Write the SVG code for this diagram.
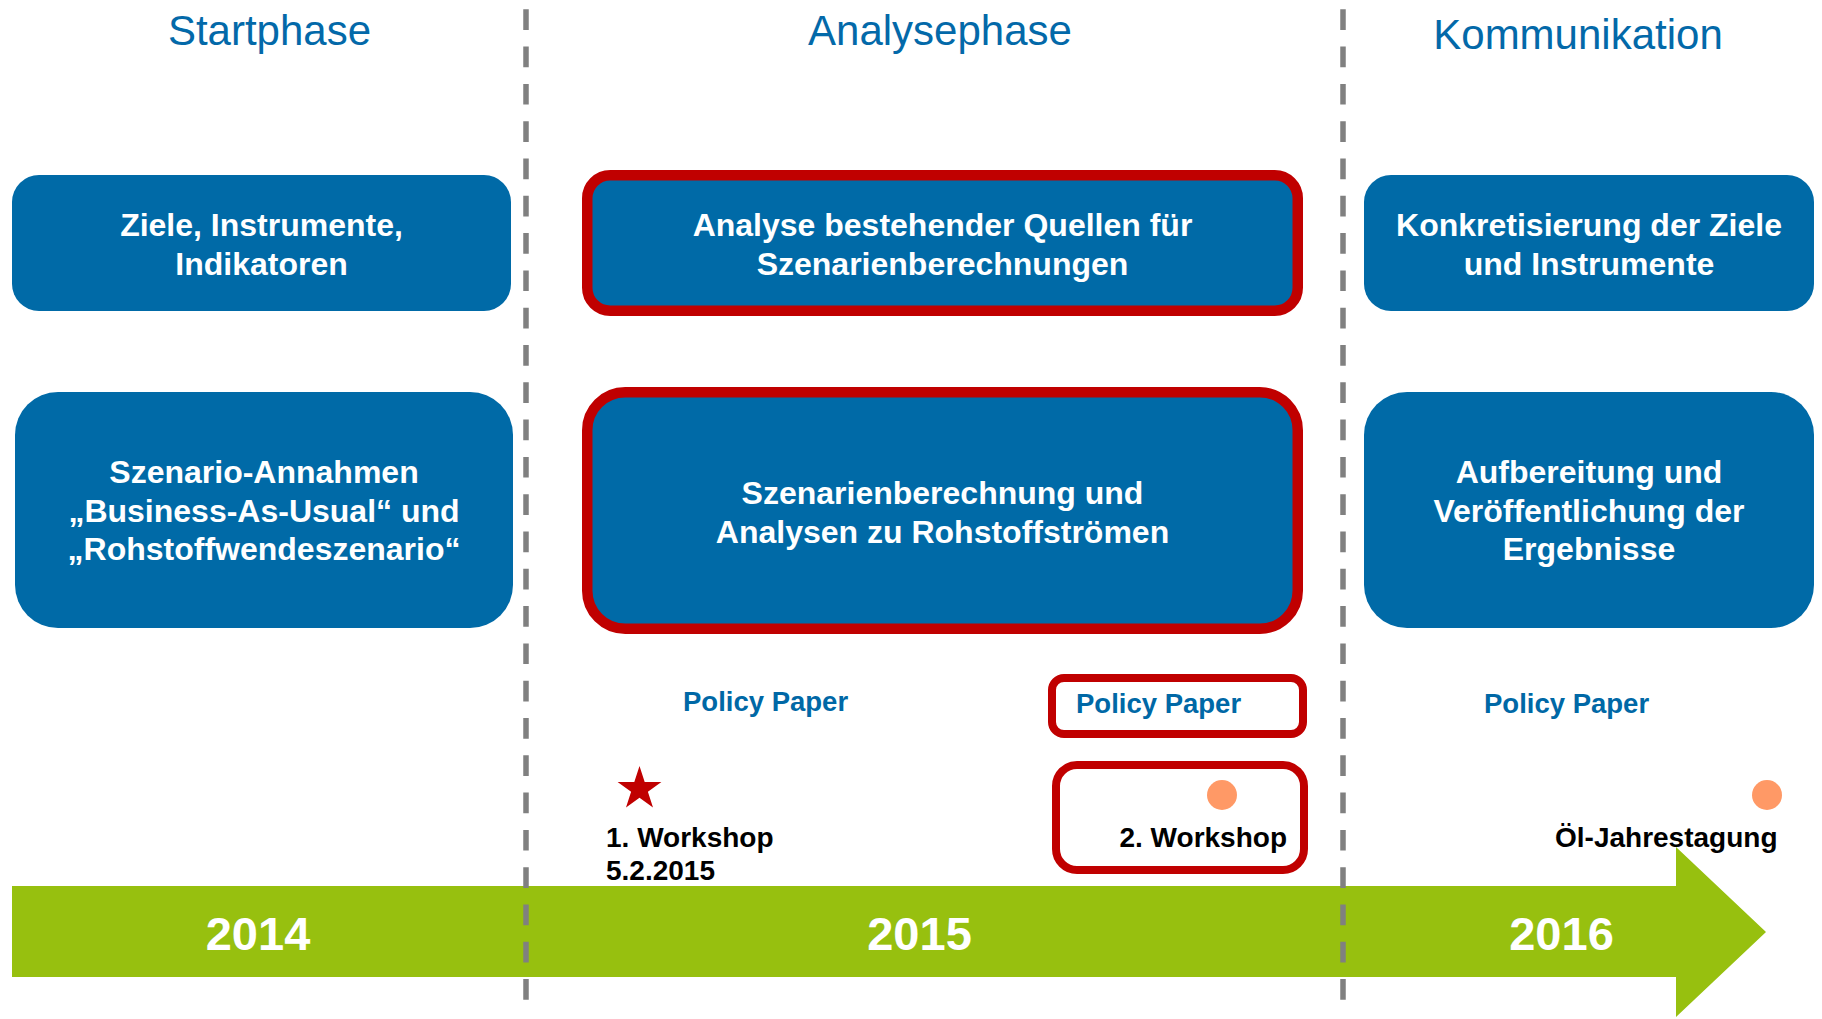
<svg xmlns="http://www.w3.org/2000/svg" width="1822" height="1019" viewBox="0 0 1822 1019">
<style>
text{font-family:"Liberation Sans",Arial,sans-serif}
.title{font-size:42px;fill:#0369A9;text-anchor:middle}
.box{fill:#006AA7}
.red{fill:#006AA7;stroke:#C00000;stroke-width:10.5}
.btxt{font-size:32px;font-weight:bold;fill:#fff;text-anchor:middle}
.pp{font-size:27.5px;font-weight:bold;fill:#0068A6}
.ev{font-size:28px;font-weight:bold;fill:#000}
.frame{fill:#fff;stroke:#C00000;stroke-width:8}
.year{font-size:47px;font-weight:bold;fill:#fff;text-anchor:middle}
.sep{stroke:#808080;stroke-width:5.5;stroke-dasharray:20.7 16.6;fill:none}
.dot{fill:#FF9966}
</style>
<rect width="1822" height="1019" fill="#fff"/>

<g id="titles">
<text class="title" x="269.5" y="45">Startphase</text>
<text class="title" x="940" y="45">Analysephase</text>
<text class="title" x="1578" y="49">Kommunikation</text>
</g>

<g id="box-ziele">
<rect class="box" x="12" y="175" width="499" height="136" rx="27"/>
<text class="btxt" x="261.5" y="236">Ziele, Instrumente,</text>
<text class="btxt" x="261.5" y="275">Indikatoren</text>
</g>

<g id="box-analyse">
<rect class="red" x="587.25" y="175.25" width="710.5" height="135.5" rx="23"/>
<text class="btxt" x="942.5" y="236">Analyse bestehender Quellen für</text>
<text class="btxt" x="942.5" y="275">Szenarienberechnungen</text>
</g>

<g id="box-konkret">
<rect class="box" x="1364" y="175" width="450" height="136" rx="27"/>
<text class="btxt" x="1589" y="236">Konkretisierung der Ziele</text>
<text class="btxt" x="1589" y="275">und Instrumente</text>
</g>

<g id="box-szenario">
<rect class="box" x="15" y="392" width="498" height="236" rx="43"/>
<text class="btxt" x="264" y="483">Szenario-Annahmen</text>
<text class="btxt" x="264" y="522">„Business-As-Usual“ und</text>
<text class="btxt" x="264" y="560">„Rohstoffwendeszenario“</text>
</g>

<g id="box-berechnung">
<rect class="red" x="587.25" y="392.25" width="710.5" height="236.5" rx="38"/>
<text class="btxt" x="942.5" y="503.5">Szenarienberechnung und</text>
<text class="btxt" x="942.5" y="542.5">Analysen zu Rohstoffströmen</text>
</g>

<g id="box-aufbereitung">
<rect class="box" x="1364" y="392" width="450" height="236" rx="43"/>
<text class="btxt" x="1589" y="483">Aufbereitung und</text>
<text class="btxt" x="1589" y="522">Veröffentlichung der</text>
<text class="btxt" x="1589" y="560">Ergebnisse</text>
</g>

<g id="timeline">
<polygon fill="#97C00F" points="12,886 1676,886 1676,847 1766,932 1676,1017 1676,977 12,977"/>
<text class="year" x="258" y="950">2014</text>
<text class="year" x="919.5" y="950">2015</text>
<text class="year" x="1561.5" y="950">2016</text>
</g>

<g id="connectors">
<line class="sep" x1="526" y1="9.3" x2="526" y2="1001"/>
<line class="sep" x1="1343" y1="9.3" x2="1343" y2="1001"/>
</g>

<g id="policy-paper-1">
<text class="pp" x="683" y="711">Policy Paper</text>
</g>

<g id="policy-paper-2">
<rect class="frame" x="1052" y="678" width="251" height="56" rx="12"/>
<text class="pp" x="1076" y="713">Policy Paper</text>
</g>

<g id="policy-paper-3">
<text class="pp" x="1484" y="713">Policy Paper</text>
</g>

<g id="workshop-1">
<polygon fill="#C00000" points="639.5,766 644.7,781.9 661.4,781.9 647.9,791.7 653.0,807.6 639.5,797.8 626.0,807.6 631.1,791.7 617.6,781.9 634.3,781.9"/>
<text class="ev" x="606" y="847">1. Workshop</text>
<text class="ev" x="606" y="880">5.2.2015</text>
</g>

<g id="workshop-2">
<rect class="frame" x="1056" y="765" width="248" height="105" rx="21"/>
<circle class="dot" cx="1222" cy="795" r="15"/>
<text class="ev" x="1287" y="847" text-anchor="end">2. Workshop</text>
</g>

<g id="jahrestagung">
<circle class="dot" cx="1767" cy="795" r="15"/>
<text class="ev" x="1555" y="847">Öl-Jahrestagung</text>
</g>
</svg>
